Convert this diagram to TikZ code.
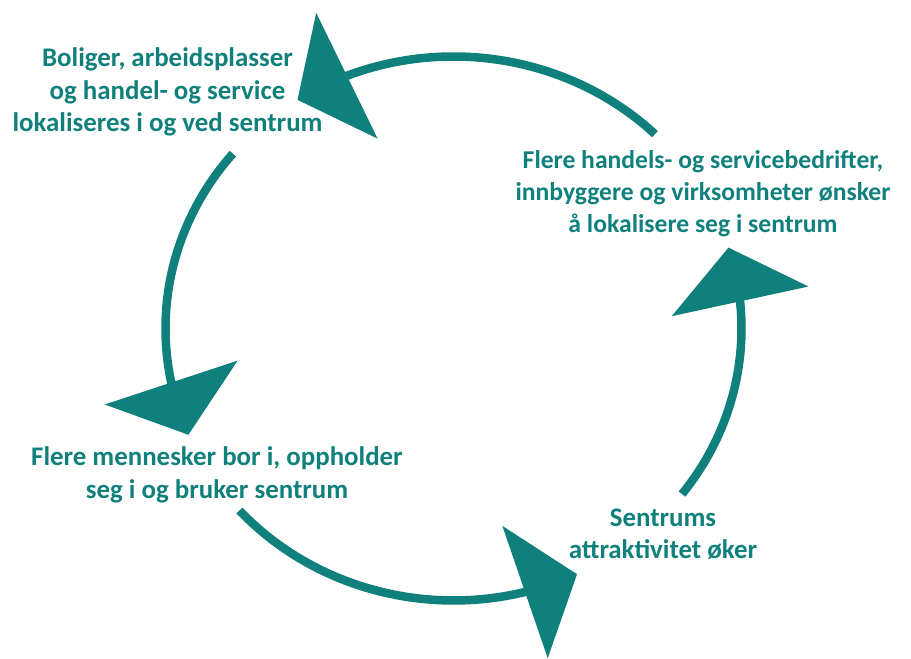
\documentclass[tikz,border=0pt]{standalone}
\usepackage{fontspec}
\setmainfont{Carlito}
\usetikzlibrary{arrows.meta,bending}
\definecolor{loopteal}{RGB}{16,128,124}

\begin{document}
\begin{tikzpicture}[x=0.02cm, y=0.02cm,
    txt/.style={text=loopteal, font=\fontsize{15.3}{18.4}\selectfont\bfseries, align=center, inner sep=0pt},
    cyc/.style={draw=loopteal, line width=0.17cm, -{Triangle[length=1.1cm, width=2.8cm, flex, line width=0pt]}}]
    \useasboundingbox (0,0) rectangle (911,658);
    \coordinate (mid) at (453.5,329.5);

    \node[txt] (bolig) at (167.5,566) {Boliger, arbeidsplasser\\og handel- og service\\lokaliseres i og ved sentrum};
    \node[txt, font=\fontsize{14.6}{18.2}\selectfont\bfseries] (flere) at (703,464) {Flere handels- og servicebedrifter,\\innbyggere og virksomheter ønsker\\å lokalisere seg i sentrum};
    \node[txt] (folk) at (217,183) {Flere mennesker bor i, oppholder\\seg i og bruker sentrum};
    \node[txt] (attr) at (663,124) {Sentrums\\attraktivitet øker};

    \foreach \i/\a/\b in {1/45.6/122.8, 2/140/203, 3/222/295.4, 4/-37.5/17.3} {
        \coordinate (s\i) at ([shift={(mid)}]\a:288 and 272);
        \draw[cyc] (s\i) arc[start angle=\a, end angle=\b, x radius=288, y radius=272];
    }
\end{tikzpicture}
\end{document}
